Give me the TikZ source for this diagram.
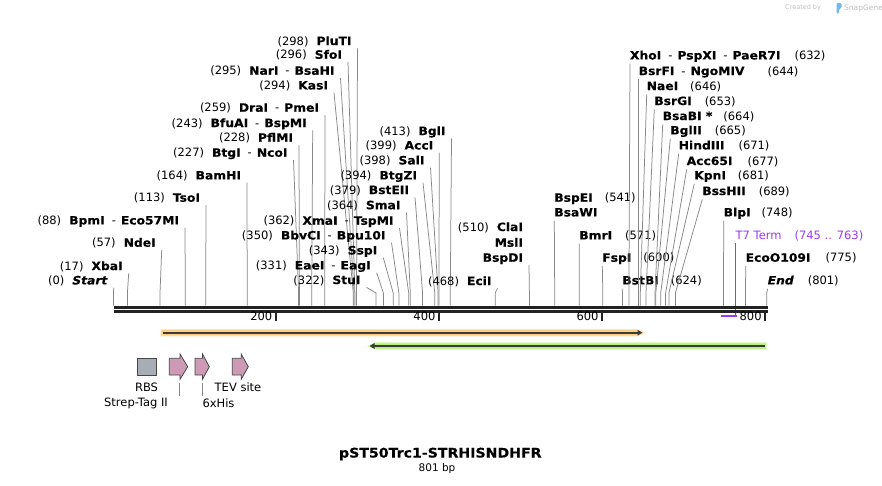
\documentclass[tikz,border=0pt]{standalone}
\usepackage{fontspec}
\setmainfont{DejaVu Sans}[BoldFeatures={FakeStretch=1.07,FakeBold=0.35},BoldItalicFeatures={FakeStretch=1.07,FakeBold=0.35}]
\usetikzlibrary{arrows.meta}
\definecolor{cutgrey}{RGB}{135,135,135}
\definecolor{bb}{RGB}{34,34,34}
\definecolor{darkln}{RGB}{60,60,60}
\definecolor{orgfill}{RGB}{253,206,128}
\definecolor{orgglow}{RGB}{255,226,168}
\definecolor{grnfill}{RGB}{182,240,120}
\definecolor{grnglow}{RGB}{214,250,178}
\definecolor{purp}{RGB}{158,56,245}
\definecolor{pinkf}{RGB}{205,154,182}
\definecolor{rbsf}{RGB}{166,173,181}
\definecolor{edgec}{RGB}{70,70,70}
\definecolor{sg}{RGB}{190,190,190}
\definecolor{sgblue}{RGB}{110,185,240}
\newcommand\enzsep{\hspace{7pt}-\hspace{5pt}}
\newcommand\gapA{\hspace{8pt}}
\newcommand\enzL[5]{%
  \node[lab,anchor=mid east] (l#1) at (#2,#3) {#4};
  \coordinate (b#1) at (#5,293);
  \coordinate (c#1) at (#5,305.5);
  \draw[cut] ([xshift=6pt,yshift=-6pt]l#1.mid east) -- (b#1) -- (c#1);}
\newcommand\enzR[5]{%
  \node[lab,anchor=mid west] (l#1) at (#2,#3) {#4};
  \coordinate (b#1) at (#5,293);
  \coordinate (c#1) at (#5,305.5);
  \draw[cut] ([yshift=-7pt]l#1.mid west) -- (b#1) -- (c#1);}
\tikzset{
  lab/.style={inner sep=0pt,outer sep=0pt,font=\fontsize{11.5}{13}\selectfont},
  cut/.style={draw=cutgrey,line width=0.75pt},
  feat/.style={draw=edgec,line width=0.8pt,line join=miter},
}
\begin{document}
\begin{tikzpicture}[x=1pt,y=-1pt]
\fill[white] (0,0) rectangle (882,485);
\useasboundingbox (0,0) rectangle (882,485);

% ---- left-side enzyme labels
\enzL{Start}{107.7}{281.7}{(0)\gapA\textbf{\textit{Start}}}{113.5}
\enzL{XbaI}{122.7}{267.3}{(17)\gapA\textbf{XbaI}}{127.4}
\enzL{NdeI}{155.7}{244}{(57)\gapA\textbf{NdeI}}{160}
\enzL{BpmI}{179}{221.7}{(88)\gapA\textbf{BpmI}\enzsep\textbf{Eco57MI}}{185.3}
\enzL{TsoI}{200}{199}{(113)\gapA\textbf{TsoI}}{205.7}
\enzL{BamHI}{241}{176.7}{(164)\gapA\textbf{BamHI}}{247.2}
\enzL{BtgI}{287.5}{154}{(227)\gapA\textbf{BtgI}\enzsep\textbf{NcoI}}{298.6}
\enzL{PflMI}{293}{139}{(228)\gapA\textbf{PflMI}}{299.4}
\enzL{BfuAI}{306.7}{124.3}{(243)\gapA\textbf{BfuAI}\enzsep\textbf{BspMI}}{311.7}
\enzL{DraI}{319}{109}{(259)\gapA\textbf{DraI}\enzsep\textbf{PmeI}}{324.7}
\enzL{KasI}{328}{86.7}{(294)\gapA\textbf{KasI}}{353.3}
\enzL{NarI}{334.5}{72}{(295)\gapA\textbf{NarI}\enzsep\textbf{BsaHI}}{354.1}
\enzL{SfoI}{342}{56}{(296)\gapA\textbf{SfoI}}{354.9}
\enzL{PluTI}{351.5}{42.3}{(298)\gapA\textbf{PluTI}}{356.5}
\enzL{StuI}{360.5}{281.3}{(322)\gapA\textbf{StuI}}{376.1}
\enzL{EaeI}{370.7}{266.7}{(331)\gapA\textbf{EaeI}\enzsep\textbf{EagI}}{383.4}
\enzL{SspI}{377.3}{251.7}{(343)\gapA\textbf{SspI}}{393.2}
\enzL{BbvCI}{385.5}{236.7}{(350)\gapA\textbf{BbvCI}\enzsep\textbf{Bpu10I}}{398.9}
\enzL{XmaI}{393.5}{222}{(362)\gapA\textbf{XmaI}\enzsep\textbf{TspMI}}{408.7}
\enzL{SmaI}{400.5}{206.5}{(364)\gapA\textbf{SmaI}}{410.3}
\enzL{BstEII}{409}{191.3}{(379)\gapA\textbf{BstEII}}{422.6}
\enzL{BtgZI}{417}{176.7}{(394)\gapA\textbf{BtgZI}}{434.8}
\enzL{SalI}{424.5}{161.7}{(398)\gapA\textbf{SalI}}{438.1}
\enzL{AccI}{433.3}{146.7}{(399)\gapA\textbf{AccI}}{438.9}
\enzL{BglI}{445.5}{132.3}{(413)\gapA\textbf{BglI}}{450.3}
\enzL{EciI}{491.5}{282.3}{(468)\gapA\textbf{EciI}}{495.2}
\node[lab,anchor=mid east] (lClaI) at (523,228.3) {(510)\gapA\textbf{ClaI}};
\node[lab,anchor=mid east] (lMslI) at (523,244) {\textbf{MslI}};
\enzL{BspDI}{523}{259}{\textbf{BspDI}}{529.4}

% ---- right-side enzyme labels
\node[lab,anchor=mid west] (lBspEI) at (554.3,199) {\textbf{BspEI}\hspace{12pt}(541)};
\enzR{BsaWI}{554.3}{213.7}{\textbf{BsaWI}}{554.7}
\enzR{BmrI}{579.3}{236.7}{\textbf{BmrI}\hspace{13pt}(571)}{579.2}
\enzR{FspI}{602.3}{259}{\textbf{FspI}\hspace{12pt}(600)}{602.8}
\enzR{BstBI}{622.3}{281.7}{\textbf{BstBI}\hspace{12pt}(624)}{622.4}
\enzR{XhoI}{630}{56.7}{\textbf{XhoI}\enzsep\textbf{PspXI}\enzsep\textbf{PaeR7I}\hspace{14pt}(632)}{628.9}
\enzR{BsrFI}{638.7}{72.3}{\textbf{BsrFI}\enzsep\textbf{NgoMIV}\hspace{23pt}(644)}{638.7}
\enzR{NaeI}{646.7}{87.3}{\textbf{NaeI}\hspace{12pt}(646)}{640.3}
\enzR{BsrGI}{654.3}{102.3}{\textbf{BsrGI}\hspace{13pt}(653)}{646}
\enzR{BsaBI}{662.7}{117.3}{\textbf{BsaBI *}\hspace{11pt}(664)}{655}
\enzR{BglII}{670.3}{131.7}{\textbf{BglII}\hspace{13pt}(665)}{655.8}
\enzR{HindIII}{678.7}{146.7}{\textbf{HindIII}\hspace{14pt}(671)}{660.7}
\enzR{Acc65I}{686.7}{162.3}{\textbf{Acc65I}\hspace{15pt}(677)}{665.6}
\enzR{KpnI}{694.3}{176.7}{\textbf{KpnI}\hspace{12pt}(681)}{668.9}
\enzR{BssHII}{702.3}{192.3}{\textbf{BssHII}\hspace{13pt}(689)}{675.4}
\enzR{BlpI}{723.7}{213.7}{\textbf{BlpI}\hspace{11pt}(748)}{723.5}
\enzR{EcoO}{745.7}{259}{\textbf{EcoO109I}\hspace{15pt}(775)}{745.5}
\enzR{End}{767.7}{281.7}{\textbf{\textit{End}}\hspace{14pt}(801)}{766.7}

% ---- T7 terminator
\node[lab,anchor=mid west,text=purp] (lT7) at (735.7,236.7) {T7 Term\hspace{13pt}(745 .. 763)};
\coordinate (t7a) at (720.5,315.8);
\coordinate (t7b) at (736.8,315.8);
\coordinate (t7c) at (735.7,315.8);
\draw[purp,line width=1pt] ([yshift=-6pt]lT7.mid west) -- (t7c);
\draw[purp,line width=2.2pt] (t7a) -- (t7b);

% ---- backbone
\coordinate (s0) at (113.5,307.5);
\coordinate (s1) at (767.7,307.5);
\coordinate (s2) at (113.5,311.4);
\coordinate (s3) at (767.7,311.4);
\draw[bb,line width=3.4pt] (s0) -- (s1);
\draw[bb,line width=2.2pt] (s2) -- (s3);
\foreach \p/\x in {200/275.8,400/438.9,600/602,800/765.1}{
  \draw[bb,line width=1.6pt] (\x,311) -- (\x,321.3);
  \node[lab,anchor=mid east] (tk\p) at (\x-3.5,317.8) {\p};
}

% ---- long features
\coordinate (oa) at (162.5,332.7);
\coordinate (ob) at (642.5,332.7);
\path[fill=orgfill,draw=orgglow,line width=1pt] (161,329.6) -- (637,329.6) -- (644,332.7) -- (637,335.8) -- (161,335.8) -- cycle;
\draw[darkln,line width=1.8pt,-{Triangle[length=5pt,width=5.5pt]}] (oa) -- (ob);
\coordinate (ga) at (764.5,346);
\coordinate (gb) at (369.5,346);
\path[fill=grnfill,draw=grnglow,line width=1pt] (766,342.9) -- (375,342.9) -- (368,346) -- (375,349.1) -- (766,349.1) -- cycle;
\draw[darkln,line width=1.8pt,-{Triangle[length=5pt,width=5.5pt]}] (ga) -- (gb);

% ---- small features
\node[feat,fill=rbsf,minimum width=19.4pt,minimum height=16.7pt,inner sep=0pt] (rbs) at (147,366.7) {};
\draw[feat,fill=pinkf] (169.3,358.3) -- (180,358.3) -- (180,354) -- (187.7,366.7) -- (180,379.3) -- (180,375) -- (169.3,375) -- cycle;
\draw[feat,fill=pinkf] (195,358.3) -- (202.5,358.3) -- (202.5,354) -- (209.3,366.7) -- (202.5,379.3) -- (202.5,375) -- (195,375) -- cycle;
\draw[feat,fill=pinkf] (232.3,358.3) -- (241.2,358.3) -- (241.2,354) -- (248.3,366.7) -- (241.2,379.3) -- (241.2,375) -- (232.3,375) -- cycle;
\node[lab] (tRBS) at (146.5,387) {RBS};
\node[lab] (tStrep) at (136,403.5) {Strep-Tag II};
\node[lab] (tTEV) at (238,387) {TEV site};
\node[lab] (tHis) at (218.5,403.5) {6xHis};
\coordinate (k1a) at (179,383);
\coordinate (k1b) at (179,396);
\coordinate (k2a) at (202,383);
\coordinate (k2b) at (202,396);
\draw[cut] (k1a) -- (k1b);
\draw[cut] (k2a) -- (k2b);

% ---- title
\node[inner sep=0pt,font=\bfseries\fontsize{13.2}{16}\selectfont] (title) at (440.3,454) {pST50Trc1-STRHISNDHFR};
\node[inner sep=0pt,font=\fontsize{10.5}{12}\selectfont] (len) at (437,469) {801 bp};

% ---- watermark
\node[inner sep=0pt,anchor=mid west,text=sg,font=\fontsize{6.5}{7}\selectfont] (cby) at (785,7) {Created by};
\fill[sgblue,rounded corners=1.2pt] (836.5,3) -- (841.5,3) -- (841.5,8) -- (839,9) -- (839,13.5) -- (836.5,13.5) -- cycle;
\node[inner sep=0pt,anchor=mid west,text=sg,font=\fontsize{7.5}{8}\selectfont] (sgn) at (844,7.5) {SnapGene};
\end{tikzpicture}
\end{document}
